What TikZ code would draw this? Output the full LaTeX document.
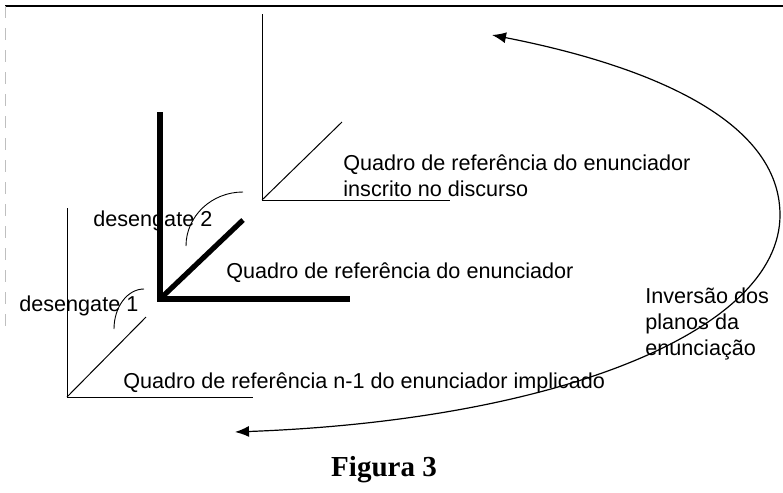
\documentclass[tikz,border=0pt]{standalone}
\usepackage{fontspec}
\usepackage{tikz}
\usetikzlibrary{arrows.meta}
\setmainfont{Liberation Sans}
\newfontfamily\captionfont{Liberation Serif}

\begin{document}
\begin{tikzpicture}[x=0.5pt,y=-0.5pt,
    txt/.style={inner sep=0pt,anchor=west,align=left,font=\fontsize{10.8}{12.8}\selectfont},
    thinaxis/.style={line width=0.5pt},
    thickaxis/.style={line width=2.6pt,line cap=butt,line join=miter},
    hook/.style={line width=0.45pt}]
\useasboundingbox (0,0) rectangle (783,493);
% frame
\draw[line width=0.7pt] (5,6) -- (783,6);
\draw[gray!50,line width=0.5pt,dash pattern=on 6pt off 5pt] (5,6) -- (5,335);
% init-xy
\coordinate (o1) at (67,397);
\coordinate (o2) at (160,299);
\coordinate (o3) at (262,200);
\draw[thinaxis] (67,208) -- (o1) -- (253,397);
\draw[thinaxis] (o1) -- (146,317);
\draw[thickaxis] (160,112) -- (o2) -- (350,299);
\draw[thickaxis] (o2) -- (243,220);
\draw[thinaxis] (262,14) -- (o3) -- (450,200);
\draw[thinaxis] (o3) -- (342,122);
% desengates
\draw[hook] (186,246) arc[start angle=180,end angle=270,x radius=57,y radius=54];
\draw[hook] (114,329) arc[start angle=180,end angle=270,x radius=30,y radius=40];
\node[txt] (deseng2) at (93,221) {desengate 2};
\node[txt] (deseng1) at (19,306) {desengate 1};
% labels
\node[txt] (quadro3) at (343,176) {Quadro de referência do enunciador\\inscrito no discurso};
\node[txt] (quadro2) at (226,273) {Quadro de referência do enunciador};
\node[txt] (quadro1) at (123,383) {Quadro de referência n-1 do enunciador implicado};
\node[txt,font=\fontsize{10.8}{13}\selectfont] (inversao) at (645,324) {Inversão dos\\planos da\\enunciação};
% inversion arrow
\coordinate (inv-low) at (235,432);
\coordinate (inv-far) at (780,215);
\coordinate (inv-high) at (492,35);
\draw[line width=0.6pt,{Latex[length=7pt,width=5.5pt]}-{Latex[length=7pt,width=5.5pt]}]
  (inv-low) .. controls (560,420) and (780,330) .. (inv-far)
  .. controls (780,110) and (620,60) .. (inv-high);
% caption
\node[inner sep=0pt,font=\captionfont\bfseries\fontsize{14.5}{16}\selectfont] (fig) at (384,470) {Figura 3};
\end{tikzpicture}
\end{document}
